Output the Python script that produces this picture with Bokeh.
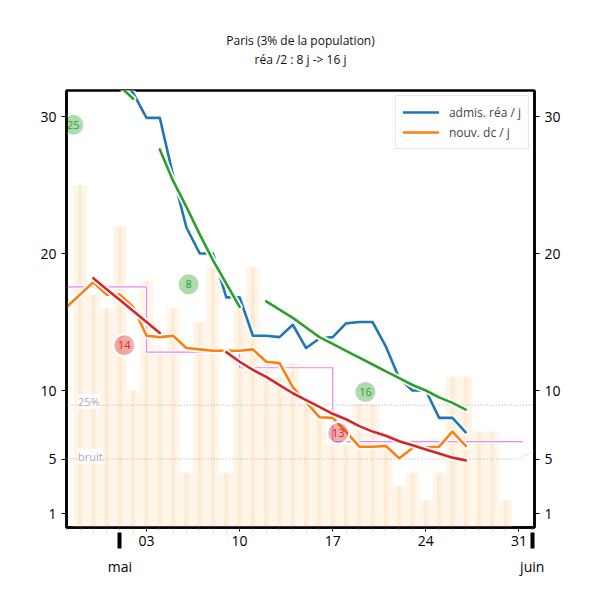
import pandas as pd
from bokeh.plotting import figure
from bokeh.models import Range1d, FixedTicker, LinearAxis, Label, Legend, LegendItem, ColumnDataSource, Title
from bokeh.core.properties import value
from bokeh.embed import file_html
from bokeh.resources import INLINE

FONT = "Open Sans"

# ---------------- data ----------------
title_lines = ["Paris (3% de la population)", "réa /2 : 8 j -> 16 j"]

bar_start = "2020-04-28"
bar_values = [25, 17, 16, 22, 10, 18, 13, 16, 4, 15, 19, 4, 16,
              19, 12, 11, 12, 9, 8, 6, 6, 9, 9,
              6, 3, 4, 2, 4, 11, 11, 7, 7, 2]

rea_label = "admis. réa / j"
rea_start = "2020-05-01"
rea_values = [33.0, 31.7, 29.9, 29.9, 25.7, 21.9, 20.0, 20.0, 16.8, 16.8,
              14.0, 14.0, 13.9, 14.8, 13.1, 13.8, 13.9, 14.9, 15.0, 15.0,
              13.2, 10.9, 10.0, 10.0, 8.0, 8.0, 6.95]

dc_label = "nouv. dc / j"
dc_start = "2020-04-27"
dc_values = [16.1, 17.0, 17.9, 17.0,
             17.0, 16.1, 14.0, 13.9, 14.0, 13.1, 13.0, 12.9, 12.9, 12.9,
             13.0, 12.1, 12.0, 10.25, 9.15, 8.05, 8.0, 7.0, 5.9, 5.9,
             5.95, 5.05, 5.8, 5.85, 5.9, 7.0, 5.95]

green_fit_starts = ["2020-04-27", "2020-05-04", "2020-05-12"]
green_fit_values = [
    [35.9, 34.9, 34.0, 33.1, 32.2, 31.3],
    [27.6, 25.3, 23.4, 21.4, 19.5, 17.8, 16.1],
    [16.5, 15.9, 15.3, 14.6, 13.9, 13.4, 12.9, 12.4, 11.9, 11.4, 10.9, 10.4,
     10.0, 9.5, 9.1, 8.6],
]
red_fit_starts = ["2020-04-29", "2020-05-09"]
red_fit_values = [
    [18.2, 17.4, 16.6, 15.8, 15.0, 14.2],
    [12.8, 12.1, 11.5, 11.0, 10.4, 9.8, 9.3, 8.8, 8.3, 7.9, 7.4, 7.0, 6.7,
     6.3, 6.0, 5.7, 5.4, 5.1, 4.9],
]

week_bounds = ["2020-04-27", "2020-05-03", "2020-05-10", "2020-05-17", "2020-05-31 07:00"]
week_means = [17.56, 12.8, 11.66, 6.27]

pct25_x = ["2020-04-27", "2020-06-01 04:00"]
pct25_y = [8.93, 8.93]
noise_x = ["2020-04-27", "2020-05-31", "2020-06-01 04:00"]
noise_y = [5.0, 5.0, 5.6]

green_badge_text = ["25", "8", "16"]
green_badge_x = ["2020-04-27 12:00", "2020-05-06 04:00", "2020-05-19 11:00"]
green_badge_y = [29.4, 17.75, 9.9]
red_badge_text = ["14", "13"]
red_badge_x = ["2020-05-01 08:00", "2020-05-17 10:00"]
red_badge_y = [13.3, 6.9]

day_tick_dates = ["2020-05-03", "2020-05-10", "2020-05-17", "2020-05-24", "2020-05-31"]
day_tick_labels = ["03", "10", "17", "24", "31"]
month_tick_dates = ["2020-05-01", "2020-06-01"]
month_tick_labels = ["mai", "juin"]
y_ticks = [1, 5, 10, 20, 30]

# ---------------- helpers ----------------
def ms(s):
    return int(pd.Timestamp(s).value // 10**6)

DAY = 86400000

def series(start, vals):
    return list(pd.date_range(start, periods=len(vals), freq="D")), vals

BLUE = "#1f77b4"
ORANGE = "#ff7f0e"
GREEN = "#2ca02c"
RED = "#d62728"

p = figure(width=584, height=584, x_axis_type="datetime",
           x_range=Range1d(ms("2020-04-27") - int(0.015 * DAY), ms("2020-06-01") + int(0.17 * DAY)),
           y_range=Range1d(0, 31.9),
           output_backend="svg", toolbar_location=None,
           min_border_left=66, min_border_right=50, min_border_top=90, min_border_bottom=57)
p.background_fill_color = "white"
p.border_fill_color = "white"
p.grid.visible = False
p.outline_line_color = "black"
p.outline_line_width = 2.5

# spacer panel between the frame and the two centred title lines
p.add_layout(Title(text=" ", text_font_size="1px", standoff=20), "above")
for txt in (title_lines[1], title_lines[0]):
    p.add_layout(Title(text=txt, align="center", text_font=FONT, text_font_size="12px",
                       text_font_style="normal", text_color="#111111", standoff=0), "above")

# bars
bx, by = series(bar_start, bar_values)
bsrc = ColumnDataSource(dict(x=bx, top=by))
p.vbar(x="x", top="top", bottom=0, width=DAY * 1.0, source=bsrc,
       fill_color="#fff5e9", line_color=None)
p.vbar(x="x", top="top", bottom=0, width=DAY * 0.3, source=bsrc,
       fill_color="#fdebd4", line_color=None)

# reference lines
p.line([pd.Timestamp(s) for s in pct25_x], pct25_y, line_color="#aaaaaa", line_width=1, line_dash="1 2")
p.line([pd.Timestamp(s) for s in noise_x], noise_y, line_color="#aaaaaa", line_width=1, line_dash="1 2")
for txt, yv in (("25%", 9.2), ("bruit", 5.2)):
    p.add_layout(Label(x=ms("2020-04-27") + int(0.85 * DAY), y=yv, text=txt,
                       text_font=FONT, text_font_size="11px", text_color="#aaaaaa",
                       text_baseline="middle", background_fill_color="white",
                       background_fill_alpha=1.0))

# weekly step (pink)
wx, wy = [], []
for i, m in enumerate(week_means):
    wx += [pd.Timestamp(week_bounds[i]), pd.Timestamp(week_bounds[i + 1])]
    wy += [m, m]
p.line(wx, wy, line_color="white", line_width=3.5)
p.line(wx, wy, line_color="violet", line_width=1.2)

def halo_line(x, y, color, w=2.6):
    p.line(x, y, line_color="white", line_width=w + 3.5, line_join="round", line_cap="round")
    return p.line(x, y, line_color=color, line_width=w, line_join="round", line_cap="round")

rx, ry = series(rea_start, rea_values)
r_rea = halo_line(rx, ry, BLUE)
dx, dy = series(dc_start, dc_values)
r_dc = halo_line(dx, dy, ORANGE)

for st, vals in zip(green_fit_starts, green_fit_values):
    gx, gy = series(st, vals)
    halo_line(gx, gy, GREEN)
for st, vals in zip(red_fit_starts, red_fit_values):
    qx, qy = series(st, vals)
    halo_line(qx, qy, RED)

# badges
for txts, xs, ys, col in ((green_badge_text, green_badge_x, green_badge_y, GREEN),
                          (red_badge_text, red_badge_x, red_badge_y, RED)):
    src = ColumnDataSource(dict(x=[pd.Timestamp(s) for s in xs], y=ys, t=txts))
    p.scatter("x", "y", source=src, size=22, fill_color=col, fill_alpha=0.38,
              line_color="white", line_width=2)
    p.text("x", "y", text="t", source=src, text_color=col, text_align="center",
           text_baseline="middle", text_font=value(FONT), text_font_size="11px")

# legend
leg = Legend(items=[LegendItem(label=rea_label, renderers=[r_rea]),
                    LegendItem(label=dc_label, renderers=[r_dc])],
             location="top_right")
leg.margin = 5
leg.padding = 7
leg.spacing = 2
leg.glyph_width = 36
leg.glyph_height = 18
leg.label_standoff = 10
leg.label_text_font = FONT
leg.label_text_font_size = "12px"
leg.border_line_color = "#cccccc"
leg.border_line_width = 1
leg.background_fill_alpha = 0.9
p.add_layout(leg)

# x axes
xa = p.xaxis[0]
xa.ticker = FixedTicker(ticks=[ms(s) for s in day_tick_dates],
                        minor_ticks=[ms("2020-04-27") + i * DAY for i in range(36)])
xa.major_label_overrides = {ms(s): l for s, l in zip(day_tick_dates, day_tick_labels)}
xa.major_label_text_font = FONT
xa.major_label_text_font_size = "14px"
xa.major_label_text_color = "black"
xa.axis_line_width = 2.5
xa.axis_line_color = "black"
xa.major_tick_in = 0
xa.major_tick_out = 4
xa.minor_tick_in = 0
xa.minor_tick_out = 2
xa.major_tick_line_color = "black"
xa.minor_tick_line_color = "#444444"
xa.major_label_standoff = 4

ma = LinearAxis(ticker=FixedTicker(ticks=[ms(s) for s in month_tick_dates], minor_ticks=[]))
ma.major_label_overrides = {ms(s): l for s, l in zip(month_tick_dates, month_tick_labels)}
ma.major_label_text_font = FONT
ma.major_label_text_font_size = "14px"
ma.major_label_text_color = "black"
ma.axis_line_color = None
ma.major_tick_in = 16
ma.major_tick_out = 0
ma.major_tick_line_width = 4
ma.major_tick_line_color = "black"
ma.major_label_standoff = 8
p.add_layout(ma, "below")

# y axes
ya = p.yaxis[0]
ya.ticker = FixedTicker(ticks=y_ticks, minor_ticks=[])
ra = LinearAxis(ticker=FixedTicker(ticks=y_ticks, minor_ticks=[]))
p.add_layout(ra, "right")
for a in (ya, ra):
    a.major_label_text_font = FONT
    a.major_label_text_font_size = "14px"
    a.major_label_text_color = "black"
    a.axis_line_width = 2.5
    a.axis_line_color = "black"
    a.major_tick_in = 0
    a.major_tick_out = 5
    a.major_tick_line_color = "black"
    a.major_label_standoff = 5

open("out.html", "w").write(file_html(p, INLINE))
